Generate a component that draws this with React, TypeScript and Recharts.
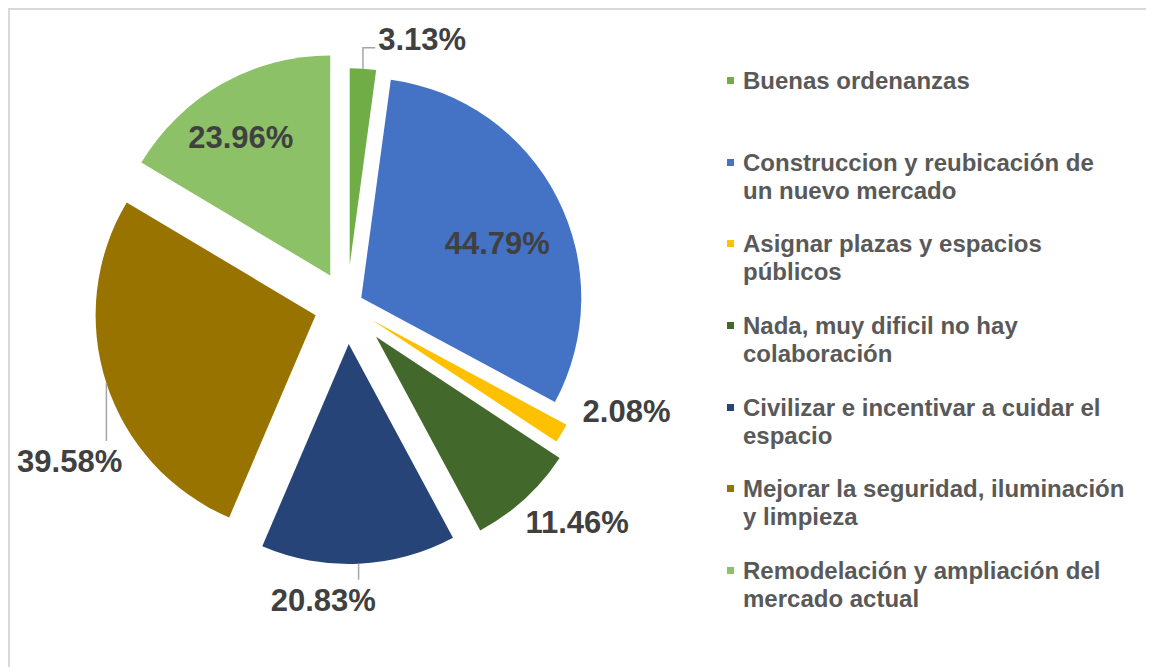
import { PieChart, Pie, Cell, Sector, Legend } from "recharts";

const categories = [
  "Buenas ordenanzas",
  "Construccion y reubicación de un nuevo mercado",
  "Asignar plazas y espacios públicos",
  "Nada, muy dificil no hay colaboración",
  "Civilizar e incentivar a cuidar el espacio",
  "Mejorar la seguridad, iluminación y limpieza",
  "Remodelación y ampliación del mercado actual",
];
const values = [3.13, 44.79, 2.08, 11.46, 20.83, 39.58, 23.96];
const colors = ["#70AD47", "#4472C4", "#FFC000", "#43682B", "#264478", "#997300", "#8CC168"];

// per-slice explosion (px) and label placement, as set by hand in the original
const explode = [40, 16, 30, 43, 39, 33, 34];
const radiusScale = [0.895, 1, 1, 1, 1, 1, 1];
const labelRadius = [245, 147, 270, 273, 257, 287, 163];
const labelNudge = [[56, 19], [5, 12], [22, -47], [17, -16], [-37, 0], [27, 58], [-9, 4]];

const data = categories.map((name, i) => ({ name, value: values[i] }));

const FONT = "'Liberation Sans', Arial, sans-serif";
const RADIAN = Math.PI / 180;

const polar = (cx: number, cy: number, r: number, angle: number) => [
  cx + r * Math.cos(-angle * RADIAN),
  cy + r * Math.sin(-angle * RADIAN),
];

const sliceIndex = (props: any) => {
  if (typeof props.index === "number") return props.index;
  const name = props.name ?? props.payload?.name;
  const i = categories.indexOf(name);
  return i < 0 ? 0 : i;
};

const renderSlice = (props: any) => {
  const i = sliceIndex(props);
  const [x, y] = polar(props.cx, props.cy, explode[i], props.midAngle);
  return (
    <Sector
      cx={x}
      cy={y}
      innerRadius={0}
      outerRadius={props.outerRadius * radiusScale[i]}
      startAngle={props.startAngle}
      endAngle={props.endAngle}
      fill={props.fill}
      stroke="none"
    />
  );
};

const renderLabel = (props: any) => {
  const i = sliceIndex(props);
  const [ex, ey] = polar(props.cx, props.cy, explode[i], props.midAngle);
  const [bx, by] = polar(ex, ey, labelRadius[i], props.midAngle);
  const lx = bx + labelNudge[i][0];
  const ly = by + labelNudge[i][1];
  const [ox, oy] = polar(ex, ey, props.outerRadius * radiusScale[i], props.midAngle);
  let points = "";
  if (i === 0) points = `${ox},${oy} ${ox},${ly + 8} ${lx - 47},${ly + 8}`;
  if (i === 4 || i === 5) points = `${ox},${oy} ${ox},${ly - 21}`;
  return (
    <g key={`lbl-${i}`}>
      {points && <polyline points={points} fill="none" stroke="#A6A6A6" strokeWidth={1.5} />}
      <text
        x={lx}
        y={ly}
        textAnchor="middle"
        dominantBaseline="central"
        fill="#404040"
        fontFamily={FONT}
        fontWeight={700}
        fontSize={31}
      >
        {`${Number(props.value).toFixed(2)}%`}
      </text>
    </g>
  );
};

const renderLegend = () => (
  <div style={{ fontFamily: FONT, fontWeight: 700, fontSize: 24, lineHeight: "28px", color: "#595959" }}>
    {categories.map((c, i) => (
      <div key={c} style={{ display: "flex", height: 81.7 }}>
        <span
          style={{ width: 7, height: 7, background: colors[i], marginTop: 10, marginRight: 9, flex: "none" }}
        />
        <span style={{ width: 382 }}>{c}</span>
      </div>
    ))}
  </div>
);

export default function App() {
  return (
    <div
      style={{
        width: 1144,
        height: 657,
        borderTop: "2px solid #D9D9D9",
        borderLeft: "2px solid #D9D9D9",
        background: "#fff",
        overflow: "hidden",
      }}
    >
      <PieChart width={1144} height={657} margin={{ top: 0, right: 0, bottom: 0, left: 0 }}>
        <Pie
          data={data}
          dataKey="value"
          nameKey="name"
          cx={337}
          cy={295}
          outerRadius={220}
          startAngle={90}
          endAngle={-270}
          stroke="none"
          shape={renderSlice}
          activeShape={renderSlice}
          inactiveShape={renderSlice}
          label={renderLabel}
          labelLine={false}
          isAnimationActive={false}
        >
          {data.map((d, i) => (
            <Cell key={d.name} fill={colors[i]} />
          ))}
        </Pie>
        <Legend
          layout="vertical"
          align="right"
          verticalAlign="middle"
          content={renderLegend}
          wrapperStyle={{ left: 717, top: 57, width: 420 }}
        />
      </PieChart>
    </div>
  );
}
